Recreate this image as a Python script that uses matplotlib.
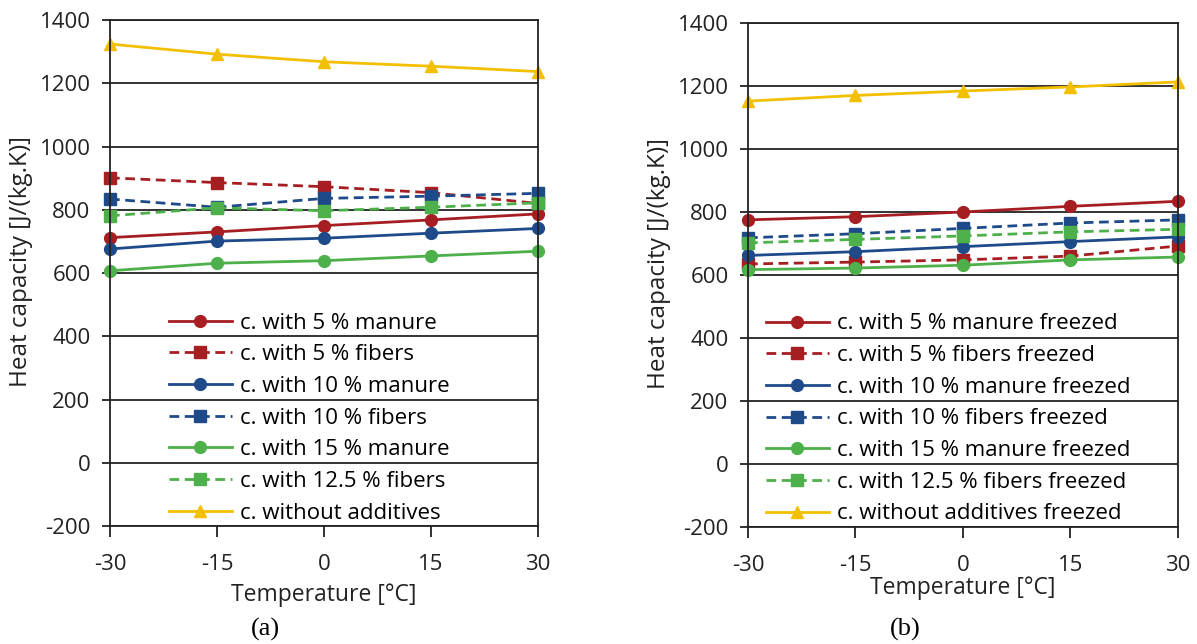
import matplotlib
matplotlib.use('Agg')
import matplotlib.pyplot as plt

plt.rcParams['font.family'] = ['Open Sans', 'DejaVu Sans']
plt.rcParams['axes.unicode_minus'] = False

temps = [-30, -15, 0, 15, 30]

# (a) values
a_manure5 = [712, 730, 750, 768, 787]
a_fibers5 = [901, 886, 873, 854, 820]
a_manure10 = [676, 701, 710, 726, 741]
a_fibers10 = [834, 808, 836, 843, 852]
a_manure15 = [607, 631, 639, 654, 669]
a_fibers125 = [781, 806, 797, 808, 822]
a_plain = [1324, 1292, 1268, 1254, 1237]

# (b) freezed
b_manure5 = [775, 785, 800, 818, 834]
b_fibers5 = [635, 641, 648, 660, 692]
b_manure10 = [662, 674, 690, 706, 721]
b_fibers10 = [718, 731, 748, 765, 775]
b_manure15 = [617, 622, 631, 648, 657]
b_fibers125 = [702, 713, 724, 737, 745]
b_plain = [1152, 1170, 1184, 1197, 1213]

labels_a = ['c. with 5 % manure', 'c. with 5 % fibers', 'c. with 10 % manure',
            'c. with 10 % fibers', 'c. with 15 % manure', 'c. with 12.5 % fibers',
            'c. without additives']
labels_b = [l + ' freezed' for l in labels_a]

RED = '#A61E22'
BLUE = '#1F4A8A'
GREEN = '#4DB04A'
YELLOW = '#F2C000'
styles = [(RED, '-', 'o'), (RED, '--', 's'), (BLUE, '-', 'o'), (BLUE, '--', 's'),
          (GREEN, '-', 'o'), (GREEN, '--', 's'), (YELLOW, '-', '^')]
INK = '#222222'


def draw_panel(ax, series, labels, xlabel_pad):
    for vals, lab, (c, ls, m) in zip(series, labels, styles):
        kw = dict(color=c, marker=m, markersize=8.5, linewidth=2.0, label=lab, clip_on=False)
        if ls == '--':
            kw['dashes'] = (3.5, 2.0)
        ax.plot(temps, vals, **kw)
    ax.set_xlim(-30, 30)
    ax.set_ylim(-200, 1400)
    ax.set_xticks(temps)
    ax.set_yticks(range(-200, 1401, 200))
    ax.yaxis.grid(True, color=INK, linewidth=1.3)
    ax.set_axisbelow(True)
    for s in ax.spines.values():
        s.set_color(INK)
        s.set_linewidth(1.3)
    ax.tick_params(axis='both', labelsize=16, colors=INK, width=1.3, direction='out')
    ax.tick_params(axis='x', length=8, pad=12)
    ax.tick_params(axis='y', length=6, pad=8)
    ax.set_xlabel('Temperature [°C]', fontsize=16.5, color=INK, labelpad=xlabel_pad)
    ax.set_ylabel('Heat capacity [J/(kg.K)]', fontsize=17.5, color=INK)
    ax.yaxis.set_label_coords(-0.18, 0.522)
    ax.legend(loc='lower center', bbox_to_anchor=(0.465, -0.017), frameon=False,
              fontsize=16, handlelength=2.84, labelspacing=0.48, handletextpad=0.36,
              borderaxespad=0.1)


fig = plt.figure(figsize=(11.97, 6.44), dpi=100)
ax1 = fig.add_axes([0.0919, 0.1832, 0.3576, 0.7857])
ax2 = fig.add_axes([0.6249, 0.1817, 0.3592, 0.7826])

draw_panel(ax1, [a_manure5, a_fibers5, a_manure10, a_fibers10, a_manure15, a_fibers125, a_plain],
           labels_a, 6)
draw_panel(ax2, [b_manure5, b_fibers5, b_manure10, b_fibers10, b_manure15, b_fibers125, b_plain],
           labels_b, 0)

fig.text(0.2215, 0.023, '(a)', fontsize=19, family='Liberation Serif', ha='center', va='center')
fig.text(0.7560, 0.023, '(b)', fontsize=19, family='Liberation Serif', ha='center', va='center')

fig.savefig('out.png', dpi=100)
